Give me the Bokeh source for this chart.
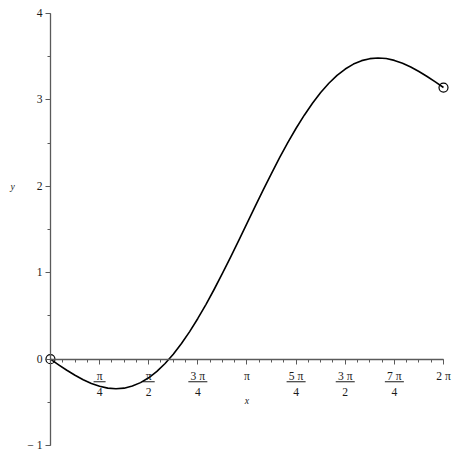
import numpy as np
from bokeh.plotting import figure
from bokeh.models import Range1d, FixedTicker, SingleIntervalTicker
from bokeh.core.properties import value
from bokeh.embed import file_html
from bokeh.resources import INLINE

# ---- data ----
x_vals = [0.0, 0.1309, 0.2618, 0.3927, 0.5236, 0.6545, 0.7854, 0.9163, 1.0472, 1.1781,
          1.3090, 1.4399, 1.5708, 1.7017, 1.8326, 1.9635, 2.0944, 2.2253, 2.3562, 2.4871,
          2.6180, 2.7489, 2.8798, 3.0107, 3.1416, 3.2725, 3.4034, 3.5343, 3.6652, 3.7961,
          3.9270, 4.0579, 4.1888, 4.3197, 4.4506, 4.5815, 4.7124, 4.8433, 4.9742, 5.1051,
          5.2360, 5.3669, 5.4978, 5.6287, 5.7596, 5.8905, 6.0214, 6.1523, 6.2832]
y_vals = [0.0, -0.065, -0.128, -0.186, -0.238, -0.282, -0.314, -0.335, -0.342, -0.335,
          -0.311, -0.271, -0.215, -0.141, -0.050, 0.058, 0.181, 0.319, 0.471, 0.635,
          0.809, 0.992, 1.181, 1.375, 1.571, 1.767, 1.961, 2.150, 2.333, 2.507,
          2.671, 2.822, 2.960, 3.084, 3.191, 3.282, 3.356, 3.413, 3.453, 3.476,
          3.484, 3.477, 3.456, 3.423, 3.380, 3.328, 3.270, 3.207, 3.142]

end_x = [0.0, 2 * np.pi]
end_y = [0.0, np.pi]

x_ticks = [k * np.pi / 4 for k in range(9)]
x_tick_labels = ["", "π\n4", "π\n2", "3 π\n4", "π", "5 π\n4", "3 π\n2", "7 π\n4", "2 π"]
x_minor = [k * np.pi / 16 for k in range(33)]

y_ticks = [-1, 0, 1, 2, 3, 4]
y_tick_labels = ["− 1", "0", "1", "2", "3", "4"]

x_label = "x"
y_label = "y"

# fraction bars under fraction-type x labels
frac_x = [x_ticks[i] for i, t in enumerate(x_tick_labels) if "\n" in t]
frac_w = [19 if " " in t else 12 for t in x_tick_labels if "\n" in t]

# ---- figure ----
W = H = 458
xr = Range1d(-0.7985, 6.523)
yr = Range1d(-1.1486, 4.1486)
p = figure(width=W, height=H, output_backend="svg", toolbar_location=None,
           x_range=xr, y_range=yr, min_border=0,
           x_axis_location="below", y_axis_location="left")
p.outline_line_color = None
p.grid.visible = False
p.background_fill_color = "white"
p.border_fill_color = "white"

FONT = "Liberation Serif"
AX_COL = "#5a5a5a"
TXT_COL = "#1a1a1a"

xa = p.xaxis[0]
xa.fixed_location = 0
xa.bounds = (0, 2 * np.pi)
xa.ticker = FixedTicker(ticks=x_ticks, minor_ticks=x_minor)
xa.major_label_overrides = {t: l for t, l in zip(x_ticks, x_tick_labels)}
xa.axis_line_color = AX_COL
xa.axis_line_width = 1.3
xa.major_tick_line_color = AX_COL
xa.minor_tick_line_color = AX_COL
xa.major_tick_in = 0
xa.major_tick_out = 5
xa.minor_tick_in = 0
xa.minor_tick_out = 3
xa.major_label_standoff = 6
xa.major_label_text_font = FONT
xa.major_label_text_font_size = "11.6px"
xa.major_label_text_line_height = 1.2
xa.major_label_text_color = TXT_COL

ya = p.yaxis[0]
ya.fixed_location = 0
ya.bounds = (-1, 4)
ya.ticker = SingleIntervalTicker(interval=1, num_minor_ticks=2)
ya.major_label_overrides = {t: l for t, l in zip(y_ticks, y_tick_labels)}
ya.axis_line_color = AX_COL
ya.axis_line_width = 1.3
ya.major_tick_line_color = AX_COL
ya.minor_tick_line_color = AX_COL
ya.major_tick_in = 0
ya.major_tick_out = 5
ya.minor_tick_in = 0
ya.minor_tick_out = 3
ya.major_label_standoff = 3
ya.major_label_text_font = FONT
ya.major_label_text_font_size = "11.6px"
ya.major_label_text_color = TXT_COL

# fraction bars
px_per_y = H / (yr.end - yr.start)
bar_y = [-22.5 / px_per_y] * len(frac_x)
p.rect(x=frac_x, y=bar_y, width=frac_w, height=1, width_units="screen",
       height_units="screen", fill_color=TXT_COL, line_color=None)

# curve
p.line(x_vals, y_vals, line_color="black", line_width=1.6, line_join="round")
p.scatter(end_x, end_y, marker="circle", size=9, fill_alpha=0,
          line_color="black", line_width=1.2)

# axis titles
p.text(x=[np.pi], y=[0], text=[x_label], x_offset=0, y_offset=41.5,
       text_font=value(FONT), text_font_style="italic", text_font_size="9.7px",
       text_align="center", text_baseline="middle", text_color=TXT_COL)
p.text(x=[0], y=[2], text=[y_label], x_offset=-37.7, y_offset=0,
       text_font=value(FONT), text_font_style="italic", text_font_size="9.7px",
       text_align="center", text_baseline="middle", text_color=TXT_COL)

open("out.html", "w").write(file_html(p, INLINE))
